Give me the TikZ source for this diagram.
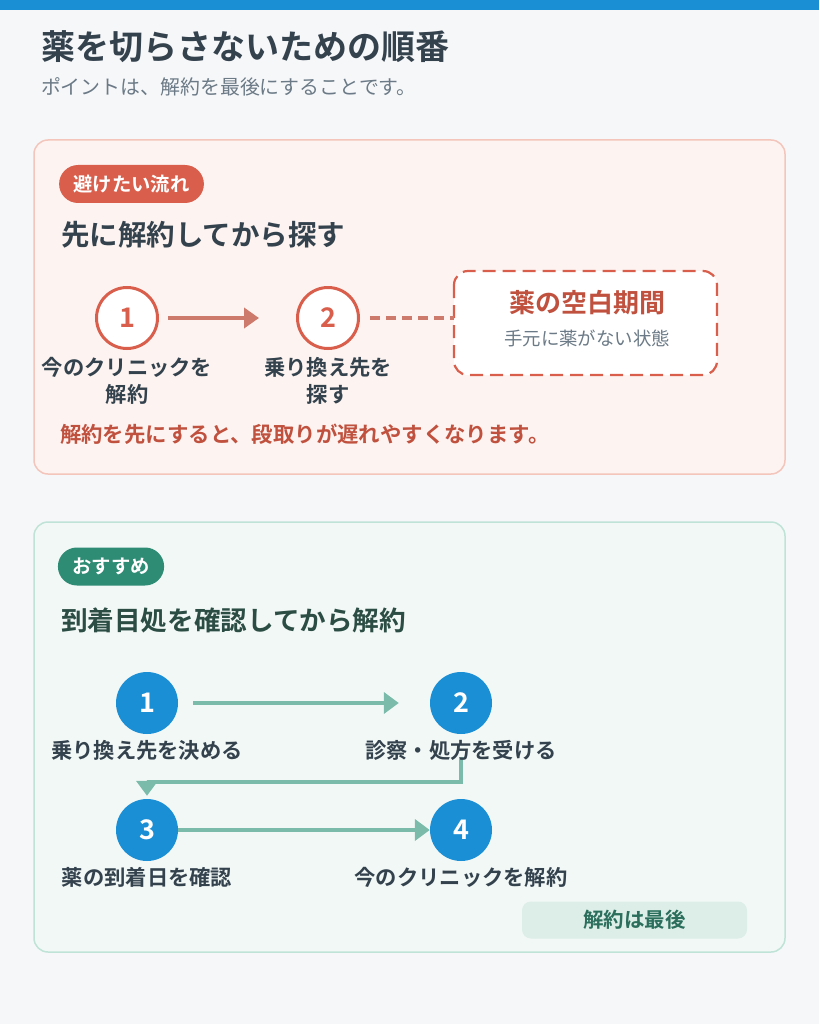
\documentclass[tikz,border=0pt]{standalone}
\usepackage{fontspec}
\setmainfont{Noto Sans CJK JP}[BoldFont={Noto Sans CJK JP Bold}]
\usetikzlibrary{arrows.meta}
\definecolor{topbar}{HTML}{1B8FD4}
\definecolor{bgc}{HTML}{F6F7F9}
\definecolor{boxAfill}{HTML}{FDF4F1}
\definecolor{boxAdraw}{HTML}{F3C5BB}
\definecolor{redc}{HTML}{D95F4C}
\definecolor{redarrow}{HTML}{CD7A6D}
\definecolor{redtext}{HTML}{C0513F}
\definecolor{darktext}{HTML}{34424E}
\definecolor{graytext}{HTML}{6B7A86}
\definecolor{boxBfill}{HTML}{F2F8F6}
\definecolor{boxBdraw}{HTML}{C0E3D8}
\definecolor{greenbadge}{HTML}{2E8B74}
\definecolor{greenhead}{HTML}{2B4D44}
\definecolor{bluec}{HTML}{1A8FD5}
\definecolor{tealarrow}{HTML}{7BBBA9}
\definecolor{pillfill}{HTML}{DCEEE7}
\definecolor{pilltext}{HTML}{2A6E5B}
\tikzset{
  txt/.style={inner sep=0pt, outer sep=0pt},
  lbl/.style={txt, font=\bfseries\fontsize{21.3}{27}\selectfont, text=darktext, align=center},
  redcirc/.style={circle, minimum size=61pt, inner sep=0pt, draw=redc, line width=3pt, fill=white,
    text=redc, font=\bfseries\fontsize{27}{27}\selectfont},
  bluecirc/.style={circle, minimum size=62pt, inner sep=0pt, fill=bluec,
    text=white, font=\bfseries\fontsize{27}{27}\selectfont},
  badge/.style={rounded corners=19pt, minimum height=38pt, inner xsep=14.5pt, inner ysep=0pt,
    text=white, font=\bfseries\fontsize{19.3}{21}\selectfont},
  heading/.style={txt, anchor=west, font=\bfseries\fontsize{27}{30}\selectfont},
  redarr/.style={draw=redarrow, line width=4pt, -{Triangle[length=15pt,width=20pt]}},
  tealarr/.style={draw=tealarrow, line width=4pt, -{Triangle[length=15pt,width=21pt]}},
}
\begin{document}
\begin{tikzpicture}[x=1pt,y=-1pt]
\useasboundingbox (0,0) rectangle (819,1024);
\fill[bgc] (0,0) rectangle (819,1024);
\fill[topbar] (0,0) rectangle (819,10);
% title
\node[txt, anchor=west, font=\bfseries\fontsize{34}{36}\selectfont, text=darktext] (title) at (41,47) {薬を切らさないための順番};
\node[txt, anchor=west, font=\fontsize{19.9}{22}\selectfont, text=graytext] (sub) at (41,87) {ポイントは、解約を最後にすることです。};
% box A
\draw[boxAdraw, fill=boxAfill, line width=1.5pt, rounded corners=14pt] (34,140) rectangle (785,474);
\node[badge, fill=redc] (badgeA) at (131.5,184) {避けたい流れ};
\node[heading, text=darktext, font=\bfseries\fontsize{28.5}{30}\selectfont] (headA) at (61,235) {先に解約してから探す};
\node[redcirc] (r1) at (127,318) {1};
\node[redcirc] (r2) at (328,318) {2};
\node[lbl, anchor=north] (lr1) at (127,357) {今のクリニックを\\解約};
\node[lbl, anchor=north] (lr2) at (328,357) {乗り換え先を\\探す};
\draw[dashed, dash pattern=on 13pt off 7pt, draw=redc, line width=2.2pt, fill=white, rounded corners=14pt] (454,271) rectangle (717,375);
\node[txt, font=\bfseries\fontsize{26}{28}\selectfont, text=redtext] (gapt) at (587,303) {薬の空白期間};
\node[txt, font=\fontsize{18.4}{20}\selectfont, text=graytext] (gaps) at (587,338) {手元に薬がない状態};
\coordinate (gapw) at (454,318);
\draw[redarr, shorten <=9pt, shorten >=37pt] (r1) -- (r2);
\draw[draw=redarrow, line width=4pt, dash pattern=on 10pt off 6pt, shorten <=10pt] (r2) -- (gapw);
\node[txt, anchor=west, font=\bfseries\fontsize{21.4}{23}\selectfont, text=redtext] (warn) at (60,434) {解約を先にすると、段取りが遅れやすくなります。};
% box B
\draw[boxBdraw, fill=boxBfill, line width=1.5pt, rounded corners=14pt] (34,522) rectangle (785,952);
\node[badge, fill=greenbadge] (badgeB) at (111,566.5) {おすすめ};
\node[heading, text=greenhead, font=\bfseries\fontsize{26.6}{30}\selectfont] (headB) at (61,620) {到着目処を確認してから解約};
\node[bluecirc] (b1) at (147,703) {1};
\node[bluecirc] (b2) at (461,703) {2};
\node[bluecirc] (b3) at (147,830) {3};
\node[bluecirc] (b4) at (461,830) {4};
\draw[tealarr, shorten <=15pt, shorten >=31pt] (b1) -- (b2);
\coordinate (turn) at (461,782);
\coordinate (lb2foot) at (461,757);
\draw[tealarr, shorten >=3pt] (lb2foot) -- (turn) -| (b3.north);
\draw[tealarr] (b3) -- (b4);
\node[lbl] (lb1) at (147,750) {乗り換え先を決める};
\node[lbl] (lb2) at (461,750) {診察・処方を受ける};
\node[lbl] (lb3) at (147,877) {薬の到着日を確認};
\node[lbl] (lb4) at (461,877) {今のクリニックを解約};
\node[rounded corners=9pt, fill=pillfill, minimum width=225pt, minimum height=37pt, inner sep=0pt,
  text=pilltext, font=\bfseries\fontsize{20.5}{22}\selectfont] (pill) at (634.5,920) {解約は最後};
\end{tikzpicture}
\end{document}
